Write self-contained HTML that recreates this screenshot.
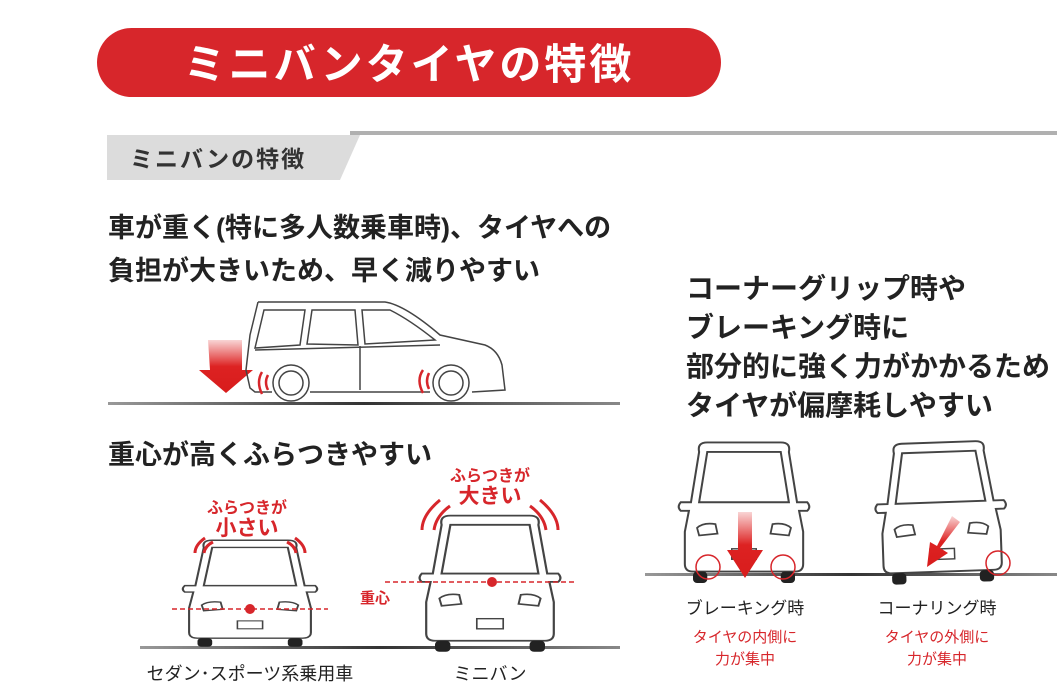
<!DOCTYPE html>
<html><head><meta charset="utf-8"><style>
html,body{margin:0;padding:0;background:#fff;}
svg{display:block;font-family:"Liberation Sans","Noto Sans CJK JP",sans-serif;}
</style></head><body>
<svg width="1057" height="698" viewBox="0 0 1057 698" xmlns="http://www.w3.org/2000/svg">
<defs>
<linearGradient id="ar" x1="0" y1="0" x2="0" y2="1"><stop offset="0" stop-color="#e02a2a" stop-opacity="0.2"/><stop offset="0.5" stop-color="#dd2222"/><stop offset="1" stop-color="#d81c1c"/></linearGradient>
<linearGradient id="gl" x1="0" y1="0" x2="1" y2="0"><stop offset="0" stop-color="#999"/><stop offset="0.5" stop-color="#333"/><stop offset="1" stop-color="#888"/></linearGradient>
<g id="front">
 <path d="M-44,-98 Q-46,-108 -36,-108 L36,-108 Q46,-108 44,-98 L52,-45 L62,-45 Q66,-40 62,-36 L54,-36 L58,-14 L58,20 Q58,28 50,28 L-50,28 Q-58,28 -58,20 L-58,-14 L-54,-36 L-62,-36 Q-66,-40 -62,-45 L-52,-45 Z" fill="#fff" stroke="#444" stroke-width="2"/>
 <path d="M-36,-98 L36,-98 L44,-45 L-44,-45 Z" fill="none" stroke="#444" stroke-width="2"/>
 <path d="M-46,-18 Q-40,-24 -28,-22 L-26,-12 L-44,-10 Z" fill="none" stroke="#444" stroke-width="1.8"/>
 <path d="M46,-18 Q40,-24 28,-22 L26,-12 L44,-10 Z" fill="none" stroke="#444" stroke-width="1.8"/>
 <rect x="-12" y="4" width="24" height="11" fill="none" stroke="#444" stroke-width="1.5"/>
 <rect x="-50" y="28" width="14" height="12" rx="4" fill="#222"/>
 <rect x="36" y="28" width="14" height="12" rx="4" fill="#222"/>
</g>
</defs>

<rect x="97" y="28" width="624" height="69" rx="34.5" fill="#d7262b"/>
<text x="409" y="79" text-anchor="middle" font-size="42" font-weight="bold" fill="#fff" letter-spacing="3">ミニバンタイヤの特徴</text>

<rect x="350" y="131" width="707" height="4" fill="#b0b0b0"/>
<path d="M107,135 L360,135 L340,180 L107,180 Z" fill="#dcdcdc"/>
<text x="130" y="167" font-size="23" font-weight="bold" fill="#333" letter-spacing="2">ミニバンの特徴</text>

<g font-weight="bold" fill="#222" font-size="27">
<text x="108" y="237">車が重く(特に多人数乗車時)、タイヤへの</text>
<text x="108" y="280">負担が大きいため、早く減りやすい</text>
<text x="108" y="464">重心が高くふらつきやすい</text>
</g>
<g font-weight="bold" fill="#222" font-size="28">
<text x="686" y="298">コーナーグリップ時や</text>
<text x="686" y="337">ブレーキング時に</text>
<text x="686" y="376">部分的に強く力がかかるため</text>
<text x="686" y="415">タイヤが偏摩耗しやすい</text>
</g>

<rect x="108" y="402" width="512" height="3" fill="url(#gl)"/>
<path d="M208,340 L242,340 L242,370 L253,370 L226,393 L199,370 L210,370 Z" fill="url(#ar)"/>
<g fill="none" stroke="#444" stroke-width="1.5">
 <path d="M258,302 L385,302 Q405,305 440,335 L485,345 Q498,350 502,365 L505,390 L472,392 M430,392 L310,392 M272,392 L255,392 L250,388 L246,370 L250,335 L258,302"/>
 <path d="M264,310 L305,310 L300,345 L255,348 Z"/>
 <path d="M312,310 L355,310 L358,345 L307,344 Z"/>
 <path d="M362,310 L390,310 Q410,320 435,340 L365,344 Z"/>
 <line x1="360" y1="346" x2="360" y2="390"/>
 <line x1="255" y1="350" x2="440" y2="345"/>
 <circle cx="291" cy="383" r="18"/><circle cx="291" cy="383" r="12"/>
 <circle cx="451" cy="383" r="18"/><circle cx="451" cy="383" r="12"/>
</g>
<g fill="none" stroke="#d7262b" stroke-width="2.5">
 <path d="M262,372 Q256,382 262,394"/><path d="M268,375 Q264,382 268,390"/>
 <path d="M423,370 Q416,380 423,393"/><path d="M429,373 Q425,381 429,389"/>
</g>

<rect x="140" y="646" width="480" height="3" fill="url(#gl)"/>
<g transform="translate(250,618) scale(1.05,0.72)"><use href="#front"/></g>
<g transform="translate(490,615) scale(1.1,0.92)"><use href="#front"/></g>
<line x1="172" y1="609" x2="328" y2="609" stroke="#d7262b" stroke-width="1.5" stroke-dasharray="5,3"/>
<line x1="385" y1="582" x2="575" y2="582" stroke="#d7262b" stroke-width="1.5" stroke-dasharray="5,3"/>
<circle cx="250" cy="609" r="5" fill="#d7262b"/>
<circle cx="492" cy="582" r="5" fill="#d7262b"/>
<text x="360" y="603" font-size="15" font-weight="bold" fill="#d7262b">重心</text>
<g fill="none" stroke="#d7262b" stroke-width="3">
 <path d="M205,538 Q195,545 195,553"/><path d="M213,542 Q205,546 204,553"/>
 <path d="M295,538 Q305,545 305,553"/><path d="M287,542 Q295,546 296,553"/>
 <path d="M440,500 Q422,515 422,530"/><path d="M450,506 Q436,516 434,530"/>
 <path d="M540,500 Q558,515 558,530"/><path d="M530,506 Q544,516 546,530"/>
</g>
<g fill="#d7262b" font-weight="bold" text-anchor="middle">
 <text x="247" y="513" font-size="16">ふらつきが</text>
 <text x="247" y="535" font-size="21">小さい</text>
 <text x="490" y="481" font-size="16">ふらつきが</text>
 <text x="490" y="503" font-size="21">大きい</text>
</g>
<g font-size="18" fill="#222" text-anchor="middle">
 <text x="250" y="680">セダン･スポーツ系乗用車</text>
 <text x="490" y="680">ミニバン</text>
</g>

<rect x="645" y="573" width="412" height="3" fill="url(#gl)"/>
<g transform="translate(744,545) scale(1.02,0.95)"><use href="#front"/></g>
<g transform="translate(942,545) rotate(-2) scale(1.02,0.95)"><use href="#front"/></g>
<path d="M738,512 L752,512 L752,550 L763,550 L745,578 L727,550 L738,550 Z" fill="url(#ar)"/>
<path d="M952,516 L960,522 L940,548 L948,553 L927,567 L930,542 L937,546 Z" fill="url(#ar)"/>
<g fill="none" stroke="#d7262b" stroke-width="1.5">
 <circle cx="708" cy="567" r="12"/><circle cx="783" cy="567" r="12"/><circle cx="998" cy="563" r="12"/>
</g>
<g font-size="17" fill="#222" text-anchor="middle">
 <text x="745" y="614">ブレーキング時</text>
 <text x="937" y="614">コーナリング時</text>
</g>
<g font-size="15" fill="#d7262b" text-anchor="middle">
 <text x="745" y="642">タイヤの内側に</text>
 <text x="745" y="664">力が集中</text>
 <text x="937" y="642">タイヤの外側に</text>
 <text x="937" y="664">力が集中</text>
</g>
</svg>
</body></html>
